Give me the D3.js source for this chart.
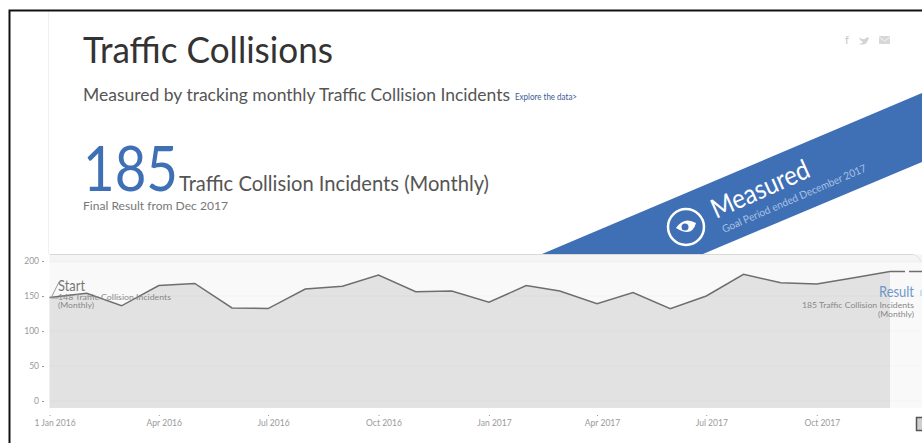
<!DOCTYPE html>
<html>
<head>
<meta charset="utf-8">
<script src="https://cdn.jsdelivr.net/npm/d3@7"></script>
<style>
  html, body { margin: 0; padding: 0; background: #fff; }
  svg { display: block; }
  text { font-family: Lato, "Noto Sans", sans-serif; }
</style>
</head>
<body>
<div id="chart"></div>
<script>
// monthly incidents
var months = ["2016-01","2016-02","2016-03","2016-04","2016-05","2016-06","2016-07","2016-08","2016-09","2016-10","2016-11","2016-12",
  "2017-01","2017-02","2017-03","2017-04","2017-05","2017-06","2017-07","2017-08","2017-09","2017-10","2017-11","2017-12"];
var incidents = [148,154,136,165,168,133,132,160,164,180,156,157,141,165,157,139,155,132,150,181,169,167,176,185];
var yTicks = [0,50,100,150,200];
var xTicks = ["2016-01","2016-04","2016-07","2016-10","2017-01","2017-04","2017-07","2017-10"];
var xTickLabels = ["1 Jan 2016","Apr 2016","Jul 2016","Oct 2016","Jan 2017","Apr 2017","Jul 2017","Oct 2017"];
var finalValue = 185;

var width = 922, height = 443;
var parseMonth = d3.utcParse("%Y-%m");
var data = months.map(function(m, i) { return {date: parseMonth(m), value: incidents[i]}; });

var svg = d3.select("#chart").append("svg")
    .attr("width", width)
    .attr("height", height);

// scales, 0.7px per incident and 1.2px per day
var xScale = d3.scaleUtc()
    .domain([parseMonth("2016-01"), parseMonth("2017-12")])
    .range([49.5, 890]);
var yScale = d3.scaleLinear()
    .domain([0, 200])
    .range([401, 261]);

// text squeezed to the width it has in the reference
function label(parent, x, y, size, color, str, len, anchor) {
  return parent.append("text")
      .attr("x", x).attr("y", y)
      .attr("font-size", size)
      .attr("fill", color)
      .attr("text-anchor", anchor || "start")
      .attr("textLength", len)
      .attr("lengthAdjust", "spacingAndGlyphs")
      .text(str);
}

// page furniture
svg.append("rect").attr("x", 48).attr("y", 11).attr("width", 1).attr("height", 243).attr("fill", "#f1f1f1");
svg.append("path")
    .attr("d", "M922,93 L922,162 L703,254 L542,254 Z")
    .attr("fill", "#3f70b5");

var badge = svg.append("g").attr("transform", "translate(686,227)");
badge.append("circle").attr("r", 18).attr("fill", "none").attr("stroke", "#fff").attr("stroke-width", 2.5);
badge.append("path").attr("d", "M-10,1 Q-2,-11 10,-4 Q6,11 -10,1 Z").attr("fill", "#fff");
badge.append("circle").attr("r", 3.5).attr("cx", -1).attr("cy", 0).attr("fill", "#3f70b5");

var measured = svg.append("g").attr("transform", "translate(716,219) rotate(-24)");
label(measured, 0, 0, 27, "#fff", "Measured", 105);
var goal = svg.append("g").attr("transform", "translate(724,233) rotate(-23.5)");
label(goal, 0, 0, 10.5, "#a9c2e4", "Goal Period ended December 2017", 156);

// header texts
label(svg, 83, 63, 36, "#333", "Traffic Collisions", 250);
label(svg, 83, 101, 17, "#555", "Measured by tracking monthly Traffic Collision Incidents", 427);
label(svg, 515, 100, 8.5, "#3b5a94", "Explore the data>", 62);
label(svg, 83, 191, 61, "#3f70b5", finalValue, 95);
label(svg, 179, 191, 21.5, "#555", "Traffic Collision Incidents (Monthly)", 310);
label(svg, 83, 210, 11.5, "#777", "Final Result from Dec 2017", 145);

// share icons
label(svg, 845, 44, 12, "#c8c8c8", "f", 4);
svg.append("path").attr("d", "M859,37 Q862,40 865,39 Q867,36 869,38 L868,40 Q866,46 859,44 Q863,43 863,42 Q860,41 859,37 Z").attr("fill", "#d2d2d2");
svg.append("rect").attr("x", 879).attr("y", 36).attr("width", 11).attr("height", 8).attr("fill", "#d8d8d8");
svg.append("path").attr("d", "M879,37 L884.5,41 L890,37").attr("fill", "none").attr("stroke", "#f4f4f4");

// plot background
svg.append("rect").attr("x", 49.5).attr("y", 254).attr("width", 872.5).attr("height", 154)
    .attr("fill", "#f9f9f9");
svg.append("rect").attr("x", 49.5).attr("y", 255).attr("width", 872.5).attr("height", 8)
    .attr("fill", "#f5f5f5");
svg.append("line").attr("x1", 49.5).attr("x2", 913).attr("y1", 254.5).attr("y2", 254.5).attr("stroke", "#d8d8d8");
svg.append("path").attr("d", "M913,254.5 Q918,255 921,261").attr("fill", "none").attr("stroke", "#e2e2e2");

var area = d3.area()
    .x(function(d) { return xScale(d.date); })
    .y0(408)
    .y1(function(d) { return yScale(d.value); });
svg.append("path").datum(data).attr("d", area).attr("fill", "#e2e2e2");

// faint gridlines
svg.selectAll(".grid")
    .data(yTicks)
  .enter().append("line")
    .attr("class", "grid")
    .attr("x1", 49.5).attr("x2", 922)
    .attr("y1", function(d) { return yScale(d); })
    .attr("y2", function(d) { return yScale(d); })
    .attr("stroke", "#000").attr("stroke-opacity", 0.025);

var line = d3.line()
    .x(function(d) { return xScale(d.date); })
    .y(function(d) { return yScale(d.value); });
svg.append("path").datum(data).attr("d", line)
    .attr("fill", "none").attr("stroke", "#6e6e6e").attr("stroke-width", 1.5);

// dashes running on past the last month
svg.append("line")
    .attr("x1", xScale(parseMonth("2017-12"))).attr("x2", 922)
    .attr("y1", yScale(finalValue)).attr("y2", yScale(finalValue))
    .attr("stroke", "#6e6e6e").attr("stroke-width", 1.5).attr("stroke-dasharray", "15 4");

// axes
var yAxis = d3.axisLeft(yScale).tickValues(yTicks).tickSize(2).tickPadding(3);
var yG = svg.append("g").attr("transform", "translate(44,0)").call(yAxis);
yG.select(".domain").remove();
yG.selectAll("line").attr("stroke", "#999");
yG.selectAll("text").attr("font-family", "Lato").attr("font-size", 8.5).attr("fill", "#999");

var xAxis = d3.axisBottom(xScale)
    .tickValues(xTicks.map(parseMonth))
    .tickFormat(function(d, i) { return xTickLabels[i]; })
    .tickSize(1).tickPadding(4);
var xG = svg.append("g").attr("transform", "translate(0,415)").call(xAxis);
xG.select(".domain").remove();
xG.selectAll("line").attr("stroke", "#999");
xG.selectAll("text").attr("font-family", "Lato").attr("font-size", 8.5).attr("fill", "#999").attr("dx", 5);

// start and result notes
var startNote = svg.append("g");
startNote.append("path").attr("d", "M59,282 L51,298 L59,298").attr("fill", "none").attr("stroke", "#999");
label(startNote, 58, 291, 15, "#777", "Start", 27);
label(startNote, 58, 299.5, 8, "#888", "148 Traffic Collision Incidents", 113);
label(startNote, 58, 308, 8, "#888", "(Monthly)", 36);

var resultNote = svg.append("g");
label(resultNote, 914, 297, 15, "#6f97c9", "Result", 35, "end");
label(resultNote, 914, 307.5, 8, "#888", "185 Traffic Collision Incidents", 112, "end");
label(resultNote, 914, 316.5, 8, "#888", "(Monthly)", 36, "end");
svg.append("line").attr("x1", 921).attr("x2", 921).attr("y1", 290).attr("y2", 296).attr("stroke", "#a9c2e4");

// black frame of the screenshot
svg.append("path").attr("d", "M9.5,443 L9.5,10.5 L922,10.5").attr("fill", "none").attr("stroke", "#111").attr("stroke-width", 2);
svg.append("rect").attr("x", 916.5).attr("y", 417.5).attr("width", 7).attr("height", 13).attr("fill", "#cfcfcf").attr("stroke", "#555").attr("stroke-width", 1.5);
</script>
</body>
</html>
